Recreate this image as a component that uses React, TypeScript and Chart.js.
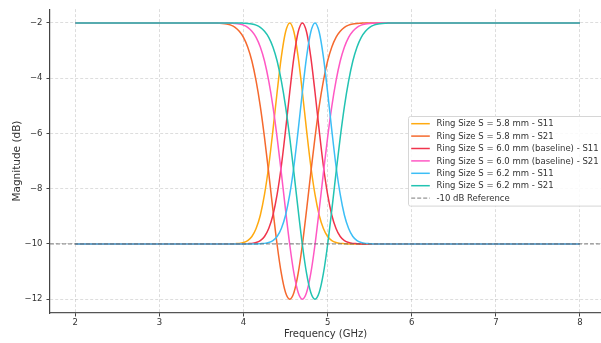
import { useEffect, useRef } from "react";
import { Chart, registerables } from "chart.js";

Chart.register(...registerables);

// Frequency samples (GHz): flat ends plus a dense band around the ring resonances
const FREQ_GHZ = [
  2.0,
  3.6, 3.65, 3.7, 3.75, 3.8, 3.85, 3.9, 3.95, 4.0, 4.05, 4.1, 4.15, 4.2, 4.25, 4.3,
  4.35, 4.4, 4.45, 4.5, 4.55, 4.6, 4.65, 4.7, 4.75, 4.8, 4.85, 4.9, 4.95, 5.0, 5.05,
  5.1, 5.15, 5.2, 5.25, 5.3, 5.35, 5.4, 5.45, 5.5, 5.55, 5.6, 5.65, 5.7, 5.75, 5.8,
  8.0,
];

// Magnitudes in dB, one value per frequency sample
const S11_58 = [
  -10,
  -10, -10, -10, -10, -10, -10,
  -9.99, -9.98, -9.95, -9.88, -9.73, -9.44, -8.96, -8.21, -7.18, -5.89, -4.5, -3.23, -2.33,
  -2.0,
  -2.33, -3.23, -4.5, -5.89, -7.18, -8.21, -8.96, -9.44, -9.73, -9.88, -9.95, -9.98, -9.99,
  -10, -10, -10, -10, -10, -10, -10, -10, -10, -10, -10, -10,
  -10,
];
const S21_58 = [
  -2,
  -2, -2,
  -2.01, -2.02, -2.04, -2.08, -2.16, -2.3, -2.52, -2.87, -3.38, -4.1, -5.02, -6.15, -7.43, -8.77, -10.03, -11.07, -11.76,
  -12.0,
  -11.76, -11.07, -10.03, -8.77, -7.43, -6.15, -5.02, -4.1, -3.38, -2.87, -2.52, -2.3, -2.16, -2.08, -2.04, -2.02, -2.01,
  -2, -2, -2, -2, -2, -2, -2, -2,
  -2,
];
const S11_60 = [
  -10,
  -10, -10, -10, -10, -10, -10, -10, -10, -10,
  -9.99, -9.98, -9.95, -9.88, -9.73, -9.44, -8.96, -8.21, -7.18, -5.89, -4.5, -3.23, -2.33,
  -2.0,
  -2.33, -3.23, -4.5, -5.89, -7.18, -8.21, -8.96, -9.44, -9.73, -9.88, -9.95, -9.98, -9.99,
  -10, -10, -10, -10, -10, -10, -10, -10, -10,
  -10,
];
const S21_60 = [
  -2,
  -2, -2, -2, -2, -2,
  -2.01, -2.02, -2.04, -2.08, -2.16, -2.3, -2.52, -2.87, -3.38, -4.1, -5.02, -6.15, -7.43, -8.77, -10.03, -11.07, -11.76,
  -12.0,
  -11.76, -11.07, -10.03, -8.77, -7.43, -6.15, -5.02, -4.1, -3.38, -2.87, -2.52, -2.3, -2.16, -2.08, -2.04, -2.02, -2.01,
  -2, -2, -2, -2, -2,
  -2,
];
const S11_62 = [
  -10,
  -10, -10, -10, -10, -10, -10, -10, -10, -10, -10, -10, -10,
  -9.99, -9.98, -9.95, -9.88, -9.73, -9.44, -8.96, -8.21, -7.18, -5.89, -4.5, -3.23, -2.33,
  -2.0,
  -2.33, -3.23, -4.5, -5.89, -7.18, -8.21, -8.96, -9.44, -9.73, -9.88, -9.95, -9.98, -9.99,
  -10, -10, -10, -10, -10, -10,
  -10,
];
const S21_62 = [
  -2,
  -2, -2, -2, -2, -2, -2, -2, -2,
  -2.01, -2.02, -2.04, -2.08, -2.16, -2.3, -2.52, -2.87, -3.38, -4.1, -5.02, -6.15, -7.43, -8.77, -10.03, -11.07, -11.76,
  -12.0,
  -11.76, -11.07, -10.03, -8.77, -7.43, -6.15, -5.02, -4.1, -3.38, -2.87, -2.52, -2.3, -2.16, -2.08, -2.04, -2.02, -2.01,
  -2, -2,
  -2,
];

const SERIES_LABELS = [
  "Ring Size S = 5.8 mm - S11",
  "Ring Size S = 5.8 mm - S21",
  "Ring Size S = 6.0 mm (baseline) - S11",
  "Ring Size S = 6.0 mm (baseline) - S21",
  "Ring Size S = 6.2 mm - S11",
  "Ring Size S = 6.2 mm - S21",
];
const SERIES_VALUES = [S11_58, S21_58, S11_60, S21_60, S11_62, S21_62];
const SERIES_COLORS = ["#FFAA10", "#F5692E", "#F0344C", "#FF58C4", "#3CBEF6", "#22C3B2"];

const REFERENCE_LABEL = "-10 dB Reference";
const REFERENCE_DB = -10;

const X_TICKS = [2, 3, 4, 5, 6, 7, 8];
const Y_TICKS = [-12, -10, -8, -6, -4, -2];
const X_LIMITS = [1.7, 8.3];
const Y_LIMITS = [-12.5, -1.5];
const X_TITLE = "Frequency (GHz)";
const Y_TITLE = "Magnitude (dB)";

const FONT = "'DejaVu Sans', 'Liberation Sans', sans-serif";

// Legend box inside the plot, vertically centred against the right edge
const insideLegend = {
  id: "insideLegend",
  afterDraw(chart: any) {
    const { ctx, chartArea } = chart;
    const items = chart.data.datasets.map((ds: any) => ({
      label: ds.label,
      color: ds.borderColor,
      dash: ds.borderDash || [],
      width: ds.borderWidth,
    }));
    ctx.save();
    ctx.font = `8.5px ${FONT}`;
    const textW = Math.max(...items.map((it: any) => ctx.measureText(it.label).width));
    const rowH = 12.4;
    const padX = 2.7;
    const lineLen = 18.6;
    const gap = 6.6;
    const boxW = padX + lineLen + gap + textW + 5;
    const boxH = rowH * (items.length - 1) + 15.2;
    const right = chartArea.right + 2;
    const left = Math.round(right - boxW) + 0.5;
    const top = Math.round((chartArea.top + chartArea.bottom) / 2 - boxH / 2) + 0.5;

    ctx.beginPath();
    const r = 2;
    ctx.moveTo(left + r, top);
    ctx.lineTo(left + boxW - r, top);
    ctx.arcTo(left + boxW, top, left + boxW, top + r, r);
    ctx.lineTo(left + boxW, top + boxH - r);
    ctx.arcTo(left + boxW, top + boxH, left + boxW - r, top + boxH, r);
    ctx.lineTo(left + r, top + boxH);
    ctx.arcTo(left, top + boxH, left, top + boxH - r, r);
    ctx.lineTo(left, top + r);
    ctx.arcTo(left, top, left + r, top, r);
    ctx.closePath();
    ctx.fillStyle = "rgba(255,255,255,0.85)";
    ctx.fill();
    ctx.strokeStyle = "#d6d6d6";
    ctx.lineWidth = 1;
    ctx.stroke();

    items.forEach((it: any, i: number) => {
      const cy = top + 7.2 + rowH * i;
      ctx.beginPath();
      ctx.setLineDash(it.dash);
      ctx.strokeStyle = it.color;
      ctx.lineWidth = it.width;
      ctx.moveTo(left + padX, cy);
      ctx.lineTo(left + padX + lineLen, cy);
      ctx.stroke();
      ctx.setLineDash([]);
      ctx.fillStyle = "#333";
      ctx.textBaseline = "middle";
      ctx.textAlign = "left";
      ctx.fillText(it.label, left + padX + lineLen + gap, cy + 0.5);
    });
    ctx.restore();
  },
};

const minusSign = (v: number | string) => String(v).replace("-", "\u2212");

export default function App() {
  const canvasRef = useRef<HTMLCanvasElement>(null);

  useEffect(() => {
    document.body.style.margin = "0";
    const canvas = canvasRef.current;
    if (!canvas) return;

    const datasets: any[] = SERIES_VALUES.map((vals, i) => ({
      label: SERIES_LABELS[i],
      data: FREQ_GHZ.map((f, j) => ({ x: f, y: vals[j] })),
      borderColor: SERIES_COLORS[i],
      backgroundColor: SERIES_COLORS[i],
      borderWidth: 1.5,
      pointRadius: 0,
      cubicInterpolationMode: "monotone",
      fill: false,
      order: -i,
    }));
    datasets.push({
      label: REFERENCE_LABEL,
      data: X_LIMITS.map((f) => ({ x: f, y: REFERENCE_DB })),
      borderColor: "rgba(100,100,100,0.85)",
      backgroundColor: "rgba(100,100,100,0.85)",
      borderWidth: 1,
      borderDash: [4, 2],
      pointRadius: 0,
      fill: false,
      order: -SERIES_VALUES.length,
    });

    const gridColor = "rgba(0,0,0,0.17)";
    const chart = new Chart(canvas, {
      type: "line",
      data: { datasets },
      options: {
        responsive: false,
        animation: false,
        devicePixelRatio: 1,
        layout: { padding: { top: 7, right: 0, left: 0, bottom: 0 } },
        plugins: {
          legend: { display: false },
          tooltip: { enabled: false },
        },
        scales: {
          x: {
            type: "linear",
            min: X_LIMITS[0],
            max: 8.25,
            afterBuildTicks: (s: any) => {
              s.ticks = X_TICKS.map((v) => ({ value: v }));
            },
            afterFit: (s: any) => {
              s.height = 30;
            },
            ticks: {
              color: "#333",
              font: { family: FONT, size: 8.5 },
              padding: 1,
              maxRotation: 0,
              callback: (v: any) => minusSign(v),
            },
            grid: {
              color: gridColor,
              lineWidth: 0.8,
              tickLength: 3.5,
              tickColor: "#444",
              tickWidth: 1,
            },
            border: { color: "#555", width: 1.2, dash: [3, 2] },
            title: {
              display: true,
              text: X_TITLE,
              color: "#333",
              font: { family: FONT, size: 10 },
              padding: { top: 0, bottom: 3 },
            },
          },
          y: {
            type: "linear",
            min: Y_LIMITS[0],
            max: Y_LIMITS[1],
            afterBuildTicks: (s: any) => {
              s.ticks = Y_TICKS.map((v) => ({ value: v }));
            },
            afterFit: (s: any) => {
              s.width = 50;
            },
            ticks: {
              color: "#333",
              font: { family: FONT, size: 8.5 },
              padding: 4,
              callback: (v: any) => minusSign(v),
            },
            grid: {
              color: gridColor,
              lineWidth: 0.8,
              tickLength: 3.5,
              tickColor: "#444",
              tickWidth: 1,
            },
            border: { color: "#444", width: 1.2, dash: [3, 2] },
            title: {
              display: true,
              text: Y_TITLE,
              color: "#333",
              font: { family: FONT, size: 10.5 },
              padding: { top: 11, bottom: 0 },
            },
          },
        },
      },
      plugins: [insideLegend],
    });

    return () => chart.destroy();
  }, []);

  return (
    <div style={{ width: 601, height: 343 }}>
      <canvas ref={canvasRef} width={601} height={343} style={{ display: "block", width: 601, height: 343 }} />
    </div>
  );
}
